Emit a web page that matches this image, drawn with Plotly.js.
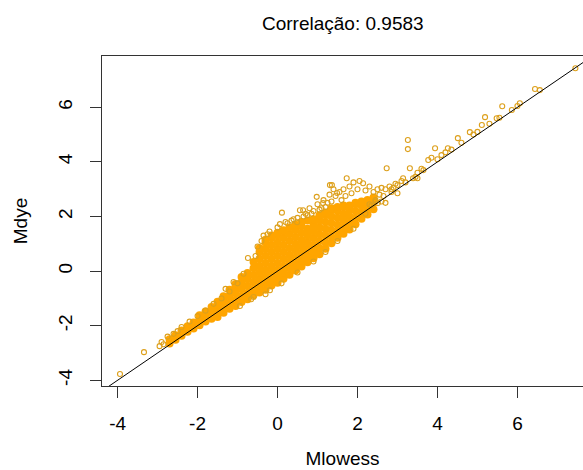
<!DOCTYPE html>
<html>
<head>
<meta charset="utf-8">
<script src="https://cdn.plot.ly/plotly-3.0.1.min.js"></script>
<style>html,body{margin:0;padding:0;background:#fff;overflow:hidden;}</style>
</head>
<body>
<div id="chart" style="width:583px;height:470px;"></div>
<script>
// Dense core of the cloud (overlapping circles read as a solid mass)
const coreX = [
-2.7,-2.7,
-2.55,-2.55,
-2.4,-2.4,
-2.25,-2.25,
-2.1,-2.1,
-1.95,-1.95,-1.95,
-1.8,-1.8,-1.8,
-1.65,-1.65,-1.65,
-1.5,-1.5,-1.5,-1.5,
-1.35,-1.35,-1.35,-1.35,
-1.2,-1.2,-1.2,-1.2,
-1.05,-1.05,-1.05,-1.05,-1.05,
-0.9,-0.9,-0.9,-0.9,-0.9,
-0.75,-0.75,-0.75,-0.75,-0.75,
-0.6,-0.6,-0.6,-0.6,-0.6,-0.6,
-0.45,-0.45,-0.45,-0.45,-0.45,-0.45,-0.45,-0.45,
-0.3,-0.3,-0.3,-0.3,-0.3,-0.3,-0.3,-0.3,-0.3,
-0.15,-0.15,-0.15,-0.15,-0.15,-0.15,-0.15,-0.15,-0.15,
0.0,0.0,0.0,0.0,0.0,0.0,0.0,0.0,0.0,
0.15,0.15,0.15,0.15,0.15,0.15,0.15,0.15,0.15,
0.3,0.3,0.3,0.3,0.3,0.3,0.3,0.3,
0.45,0.45,0.45,0.45,0.45,0.45,0.45,0.45,
0.6,0.6,0.6,0.6,0.6,0.6,0.6,0.6,
0.75,0.75,0.75,0.75,0.75,0.75,0.75,
0.9,0.9,0.9,0.9,0.9,0.9,0.9,
1.05,1.05,1.05,1.05,1.05,1.05,1.05,
1.2,1.2,1.2,1.2,1.2,1.2,1.2,
1.35,1.35,1.35,1.35,1.35,1.35,1.35,
1.5,1.5,1.5,1.5,1.5,1.5,
1.65,1.65,1.65,1.65,1.65,1.65,
1.8,1.8,1.8,1.8,1.8,
1.95,1.95,1.95,1.95,1.95,
2.1,2.1,2.1,2.1,
2.25,2.25,2.25,2.25,
2.4,2.4,2.4
];
const coreY = [
-2.65,-2.50,
-2.52,-2.35,
-2.37,-2.18,
-2.22,-2.02,
-2.10,-1.88,
-1.98,-1.75,-1.62,
-1.85,-1.62,-1.48,
-1.75,-1.50,-1.32,
-1.68,-1.45,-1.22,-1.12,
-1.53,-1.30,-1.07,-0.92,
-1.38,-1.15,-0.90,-0.68,
-1.28,-1.05,-0.80,-0.57,-0.47,
-1.13,-0.90,-0.65,-0.42,-0.22,
-1.03,-0.80,-0.55,-0.30,-0.07,
-0.88,-0.65,-0.40,-0.15,0.10,0.33,
-0.78,-0.55,-0.30,-0.05,0.20,0.45,0.70,0.85,
-0.68,-0.45,-0.20,0.05,0.30,0.55,0.80,1.05,1.15,
-0.53,-0.30,-0.05,0.20,0.45,0.70,0.95,1.20,1.30,
-0.43,-0.20,0.05,0.30,0.55,0.80,1.05,1.30,1.40,
-0.28,-0.05,0.20,0.45,0.70,0.95,1.20,1.45,1.50,
-0.13,0.10,0.35,0.60,0.85,1.10,1.35,1.60,
0.02,0.25,0.50,0.75,1.00,1.25,1.50,1.70,
0.17,0.40,0.65,0.90,1.15,1.40,1.65,1.80,
0.32,0.55,0.80,1.05,1.30,1.55,1.85,
0.47,0.70,0.95,1.20,1.45,1.70,1.90,
0.62,0.85,1.10,1.35,1.60,1.85,2.05,
0.82,1.05,1.30,1.55,1.80,2.05,2.15,
1.02,1.25,1.50,1.75,2.00,2.25,2.30,
1.22,1.45,1.70,1.95,2.20,2.35,
1.37,1.60,1.85,2.10,2.35,2.40,
1.52,1.75,2.00,2.25,2.40,
1.72,1.95,2.20,2.45,2.50,
1.92,2.15,2.40,2.55,
2.07,2.30,2.55,2.60,
2.27,2.50,2.70
];
// Individually visible circles
const edgeX = [
-3.94,-3.34,-2.95,-2.90,-2.85,-2.75,-2.60,-2.50,-2.40,-2.20,-2.00,-1.80,-1.60,-1.40,-1.20,-1.00,
-0.94,-0.66,-0.74,-0.19,-0.30,-0.60,0.10,0.50,0.90,1.20,1.50,1.90,
-0.50,-0.40,-0.35,-0.20,0.00,0.06,0.11,0.20,0.35,0.49,0.50,0.56,0.64,0.65,0.70,0.80,0.90,
0.98,1.00,1.10,1.14,1.15,1.25,1.30,1.31,1.36,1.40,1.45,1.49,1.55,1.60,1.65,1.73,1.80,1.85,
1.90,2.00,2.05,2.14,2.20,2.30,2.30,2.40,2.45,2.50,2.51,2.55,2.60,2.65,2.70,2.73,2.80,2.85,
2.90,2.95,3.00,3.00,3.10,3.14,3.26,3.26,3.31,3.39,3.50,3.50,3.60,3.77,3.85,3.94,4.00,4.10,
4.20,4.26,4.35,4.51,4.60,4.81,4.90,5.00,5.11,5.19,5.30,5.48,5.55,5.62,5.86,6.00,6.06,
6.44,6.56,7.45,2.20,2.60,2.70,
-0.55,-0.25,0.25,0.40,0.75,0.85,1.05,1.20,1.35,1.70,2.35,2.45,2.85,3.20,3.45,3.65,
-1.10,-1.30,-0.85
];
const edgeY = [
-3.77,-2.97,-2.75,-2.60,-2.68,-2.40,-2.30,-2.20,-2.05,-1.85,-1.65,-1.45,-1.20,-1.00,-0.75,-0.45,
-1.28,-1.03,0.48,-0.70,-0.85,-0.95,-0.45,-0.05,0.35,0.70,1.10,1.55,
0.90,1.10,1.30,1.45,1.60,1.72,2.14,1.80,1.85,1.79,1.95,2.23,2.23,2.00,2.10,2.30,2.20,
2.72,2.45,2.30,2.49,2.60,2.50,2.80,3.15,3.15,3.00,2.75,2.86,2.90,2.60,3.00,3.40,3.10,2.85,
3.25,3.00,3.30,3.22,2.95,3.10,2.45,2.90,2.60,3.00,2.49,2.80,3.05,2.75,3.00,3.77,3.10,2.90,
3.05,3.20,3.15,2.85,3.30,3.40,4.80,4.47,3.77,3.40,3.60,3.40,3.75,4.07,4.15,4.50,4.10,4.25,
4.35,4.50,4.45,4.87,4.70,5.09,5.00,5.10,5.35,5.64,5.40,5.60,5.62,6.04,5.90,6.05,6.15,
6.67,6.63,7.43,2.10,2.55,2.50,
0.55,1.35,1.75,1.90,2.05,2.10,2.25,2.35,2.55,2.75,2.40,2.55,3.00,3.25,3.45,3.70,
-0.40,-0.65,-0.10
];
// Reference line y = x
const lineX = [-6, 10];
const lineY = [-6, 10];
const tickVals = [-4, -2, 0, 2, 4, 6];
const tickText = ['-4', '-2', '0', '2', '4', '6'];

const FONT = 'Liberation Sans, Arial, sans-serif';
const traces = [
  {x: coreX, y: coreY, type: 'scatter', mode: 'markers', hoverinfo: 'skip',
   marker: {symbol: 'circle', size: 8, color: '#FFA500', line: {width: 0}}},
  {x: edgeX, y: edgeY, type: 'scatter', mode: 'markers', hoverinfo: 'skip',
   marker: {symbol: 'circle-open', size: 5, color: '#DDA01C', line: {width: 1.1, color: '#DDA01C'}}},
  {x: lineX, y: lineY, type: 'scatter', mode: 'lines', hoverinfo: 'skip',
   line: {color: '#000000', width: 1}}
];
const layout = {
  width: 583, height: 470,
  margin: {l: 102, r: 0, t: 56, b: 84},
  paper_bgcolor: '#ffffff', plot_bgcolor: '#ffffff',
  showlegend: false,
  font: {family: FONT, size: 19, color: '#000'},
  title: {text: 'Correlação: 0.9583', x: 0.588, xanchor: 'center', xref: 'container',
          y: 0.951, yanchor: 'middle', font: {family: FONT, size: 19, color: '#000'}},
  xaxis: {range: [-4.39, 7.64], tickvals: tickVals, ticktext: tickText,
          ticks: 'outside', ticklen: 11, tickwidth: 1, tickcolor: '#333',
          ticklabelstandoff: 9,
          showline: true, linecolor: '#333', linewidth: 1, mirror: true,
          showgrid: false, zeroline: false,
          tickfont: {family: FONT, size: 19, color: '#000'},
          title: {text: 'Mlowess', font: {family: FONT, size: 19, color: '#000'}, standoff: 18}},
  yaxis: {range: [-4.21, 7.88], tickvals: tickVals, ticktext: tickText, tickangle: -90,
          ticks: 'outside', ticklen: 11, tickwidth: 1, tickcolor: '#333',
          ticklabelstandoff: 10,
          showline: true, linecolor: '#333', linewidth: 1, mirror: false,
          showgrid: false, zeroline: false,
          tickfont: {family: FONT, size: 19, color: '#000'},
          title: {text: 'Mdye', font: {family: FONT, size: 19, color: '#000'}, standoff: 22}}
};
Plotly.newPlot('chart', traces, layout, {staticPlot: true, displayModeBar: false});
</script>
</body>
</html>
